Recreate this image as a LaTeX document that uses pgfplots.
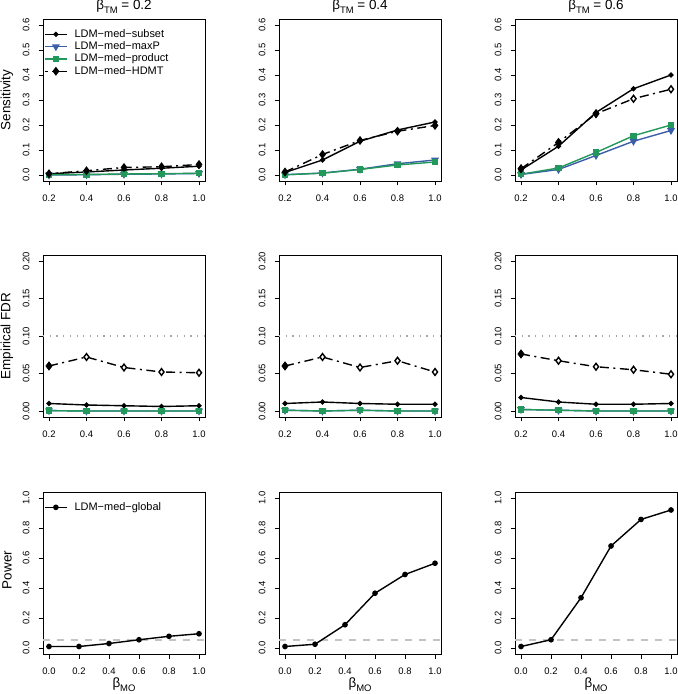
\documentclass[border=0pt]{standalone}
\usepackage{pgfplots}
\pgfplotsset{compat=1.18}
\usepackage{fontspec}
\setmainfont{Liberation Sans}
\definecolor{rblue}{HTML}{3A5FA8}
\definecolor{rgreen}{HTML}{22985A}
\definecolor{refgray}{HTML}{C4C4C4}
\definecolor{dotgray}{HTML}{A8A8A8}
\newcommand\ticksz{\fontsize{9.5}{11}\selectfont}
\newcommand\labsz{\fontsize{13.5}{15}\selectfont}
\newcommand\legsz{\fontsize{11}{12}\selectfont}
\newcommand\sub[1]{\raisebox{-0.45ex}{\fontsize{9.5}{10}\selectfont #1}}
\pgfplotsset{
  rstyle/.style={
    scale only axis, width=162bp, height=162bp,
    axis line style={line width=0.8bp},
    tick align=outside, major tick length=4.5bp,
    tick style={black, line width=0.6bp},
    xtick pos=bottom, ytick pos=left,
    ticklabel style={font=\ticksz},
    yticklabel style={rotate=90, anchor=south},
    yticklabel shift=5.5bp,
    /pgf/number format/assume math mode=true,
    legend cell align=left,
    legend image code/.code={\draw[mark repeat=2,mark phase=2] plot coordinates {(0bp,0bp) (11bp,0bp) (22bp,0bp)};},
    legend style={at={(rel axis cs:0,1)}, anchor=north west, xshift=1bp, yshift=-9bp, draw=none, fill=none, inner sep=0pt, font=\legsz, row sep=0pt, nodes={inner sep=1bp, text height=8bp, text depth=2.3bp}, /tikz/every odd column/.append style={column sep=6bp}},
  },
  row1/.style={rstyle, xmin=0.168, xmax=1.032, ymin=-0.024, ymax=0.624,
    xtick={0.2,0.4,0.6,0.8,1.0}, ytick={0,0.1,0.2,0.3,0.4,0.5,0.6},
    xticklabel style={anchor=north, yshift=-6bp, /pgf/number format/.cd, fixed, fixed zerofill, precision=1},
    yticklabel style={/pgf/number format/.cd, fixed, fixed zerofill, precision=1}},
  row2/.style={rstyle, xmin=0.168, xmax=1.032, ymin=-0.008, ymax=0.208,
    xtick={0.2,0.4,0.6,0.8,1.0}, ytick={0,0.05,0.1,0.15,0.2},
    xticklabel style={anchor=north, yshift=-6bp, /pgf/number format/.cd, fixed, fixed zerofill, precision=1},
    yticklabel style={/pgf/number format/.cd, fixed, fixed zerofill, precision=2}},
  row3/.style={rstyle, xmin=-0.04, xmax=1.04, ymin=-0.04, ymax=1.04,
    xtick={0,0.2,0.4,0.6,0.8,1.0}, ytick={0,0.2,0.4,0.6,0.8,1.0},
    xticklabel style={anchor=north, yshift=-6bp, /pgf/number format/.cd, fixed, fixed zerofill, precision=1},
    yticklabel style={/pgf/number format/.cd, fixed, fixed zerofill, precision=1}},
  sSub/.style={black, line width=1.4bp, mark=*, mark size=1.8bp},
  sMax/.style={rblue, line width=1.4bp, mark=triangle*, mark size=3.2bp, mark options={rotate=180}},
  sProd/.style={rgreen, line width=1.4bp, mark=square*, mark size=2.5bp},
  sHD/.style={black, line width=1.4bp, dash pattern=on 9bp off 4.5bp on 2bp off 4.5bp, mark=diamond*, mark size=3.4bp, mark options={solid, fill=black}},
  sHDo/.style={black, line width=1.4bp, dash pattern=on 9bp off 4.5bp on 2bp off 4.5bp, mark=diamond*, mark size=3.4bp, mark options={solid, fill=white}},
  sGlob/.style={black, line width=1.4bp, mark=*, mark size=2.1bp},
  fdrref/.style={dotgray, line width=1.2bp, dash pattern=on 1.2bp off 5.5bp},
  powref/.style={refgray, line width=2bp, dash pattern=on 7bp off 7bp},
}
\begin{document}
\begin{tikzpicture}[x=1bp,y=1bp]
\useasboundingbox (0,0) rectangle (678,694);
% ---------------- Row 1: Sensitivity
\begin{axis}[row1, at={(43bp,513bp)}, anchor=south west]
\addplot[sSub] coordinates {(0.2,0.005)(0.4,0.012)(0.6,0.020)(0.8,0.027)(1.0,0.035)};
\addplot[sMax] coordinates {(0.2,0.000)(0.4,0.001)(0.6,0.003)(0.8,0.004)(1.0,0.006)};
\addplot[sProd] coordinates {(0.2,0.001)(0.4,0.002)(0.6,0.004)(0.8,0.005)(1.0,0.007)};
\addplot[sHD, dash phase=6bp] coordinates {(0.2,0.005)(0.4,0.017)(0.6,0.030)(0.8,0.033)(1.0,0.042)};
\legend{LDM−med−subset, LDM−med−maxP, LDM−med−product, LDM−med−HDMT}
\end{axis}
\begin{axis}[row1, at={(279bp,513bp)}, anchor=south west]
\addplot[sSub] coordinates {(0.2,0.010)(0.4,0.060)(0.6,0.135)(0.8,0.180)(1.0,0.212)};
\addplot[sMax] coordinates {(0.2,0.001)(0.4,0.008)(0.6,0.023)(0.8,0.045)(1.0,0.060)};
\addplot[sProd] coordinates {(0.2,0.001)(0.4,0.007)(0.6,0.022)(0.8,0.040)(1.0,0.052)};
\addplot[sHD] coordinates {(0.2,0.012)(0.4,0.082)(0.6,0.138)(0.8,0.175)(1.0,0.198)};
\end{axis}
\begin{axis}[row1, at={(515bp,513bp)}, anchor=south west]
\addplot[sSub] coordinates {(0.2,0.020)(0.4,0.115)(0.6,0.250)(0.8,0.345)(1.0,0.400)};
\addplot[sMax] coordinates {(0.2,0.002)(0.4,0.022)(0.6,0.078)(0.8,0.135)(1.0,0.178)};
\addplot[sProd] coordinates {(0.2,0.003)(0.4,0.028)(0.6,0.090)(0.8,0.157)(1.0,0.200)};
\addplot[sHDo] coordinates {(0.2,0.025)(0.4,0.130)(0.6,0.245)(0.8,0.305)(1.0,0.343)};
\addplot[sHD, only marks] coordinates {(0.2,0.025)(0.4,0.130)(0.6,0.245)};
\end{axis}
% ---------------- Row 2: Empirical FDR
\begin{axis}[row2, at={(43bp,277bp)}, anchor=south west]
\addplot[fdrref] coordinates {(0.168,0.1)(1.032,0.1)};
\addplot[sSub] coordinates {(0.2,0.010)(0.4,0.008)(0.6,0.007)(0.8,0.006)(1.0,0.007)};
\addplot[sMax] coordinates {(0.2,0.0005)(0.4,0.000)(0.6,0.000)(0.8,0.000)(1.0,0.000)};
\addplot[sProd] coordinates {(0.2,0.0005)(0.4,0.000)(0.6,0.000)(0.8,0.000)(1.0,0.000)};
\addplot[sHDo] coordinates {(0.2,0.060)(0.4,0.072)(0.6,0.058)(0.8,0.052)(1.0,0.051)};
\addplot[sHD, only marks] coordinates {(0.2,0.060)};
\end{axis}
\begin{axis}[row2, at={(279bp,277bp)}, anchor=south west]
\addplot[fdrref] coordinates {(0.168,0.1)(1.032,0.1)};
\addplot[sSub] coordinates {(0.2,0.010)(0.4,0.012)(0.6,0.010)(0.8,0.009)(1.0,0.009)};
\addplot[sMax] coordinates {(0.2,0.001)(0.4,0.000)(0.6,0.001)(0.8,0.000)(1.0,0.000)};
\addplot[sProd] coordinates {(0.2,0.001)(0.4,0.000)(0.6,0.001)(0.8,0.000)(1.0,0.000)};
\addplot[sHDo] coordinates {(0.2,0.060)(0.4,0.072)(0.6,0.058)(0.8,0.067)(1.0,0.052)};
\addplot[sHD, only marks] coordinates {(0.2,0.060)};
\end{axis}
\begin{axis}[row2, at={(515bp,277bp)}, anchor=south west]
\addplot[fdrref] coordinates {(0.168,0.1)(1.032,0.1)};
\addplot[sSub] coordinates {(0.2,0.018)(0.4,0.012)(0.6,0.009)(0.8,0.009)(1.0,0.010)};
\addplot[sMax] coordinates {(0.2,0.002)(0.4,0.001)(0.6,0.000)(0.8,0.000)(1.0,0.000)};
\addplot[sProd] coordinates {(0.2,0.002)(0.4,0.001)(0.6,0.000)(0.8,0.000)(1.0,0.000)};
\addplot[sHDo] coordinates {(0.2,0.076)(0.4,0.067)(0.6,0.059)(0.8,0.055)(1.0,0.049)};
\addplot[sHD, only marks] coordinates {(0.2,0.076)};
\end{axis}
% ---------------- Row 3: Power
\begin{axis}[row3, at={(43bp,40bp)}, anchor=south west]
\addplot[powref] coordinates {(-0.04,0.05)(1.04,0.05)};
\addplot[sGlob] coordinates {(0,0.010)(0.2,0.010)(0.4,0.030)(0.6,0.055)(0.8,0.078)(1.0,0.095)};
\legend{,LDM−med−global}
\end{axis}
\begin{axis}[row3, at={(279bp,40bp)}, anchor=south west]
\addplot[powref] coordinates {(-0.04,0.05)(1.04,0.05)};
\addplot[sGlob] coordinates {(0,0.010)(0.2,0.025)(0.4,0.155)(0.6,0.365)(0.8,0.490)(1.0,0.565)};
\end{axis}
\begin{axis}[row3, at={(515bp,40bp)}, anchor=south west]
\addplot[powref] coordinates {(-0.04,0.05)(1.04,0.05)};
\addplot[sGlob] coordinates {(0,0.010)(0.2,0.055)(0.4,0.335)(0.6,0.680)(0.8,0.857)(1.0,0.920)};
\end{axis}
% ---------------- titles
\node[font=\labsz, anchor=base, inner sep=0pt] at (124,684) {β\sub{TM} = 0.2};
\node[font=\labsz, anchor=base, inner sep=0pt] at (360,684) {β\sub{TM} = 0.4};
\node[font=\labsz, anchor=base, inner sep=0pt] at (596,684) {β\sub{TM} = 0.6};
% ---------------- x-axis labels
\node[font=\labsz, anchor=base, inner sep=0pt] at (124,6) {β\sub{MO}};
\node[font=\labsz, anchor=base, inner sep=0pt] at (360,6) {β\sub{MO}};
\node[font=\labsz, anchor=base, inner sep=0pt] at (596,6) {β\sub{MO}};
% ---------------- y-axis labels
\node[rotate=90, font=\labsz, anchor=center] at (7,594) {Sensitivity};
\node[rotate=90, font=\labsz, anchor=center] at (7,358) {Empirical FDR};
\node[rotate=90, font=\labsz, anchor=center] at (7,124) {Power};
\end{tikzpicture}
\end{document}
